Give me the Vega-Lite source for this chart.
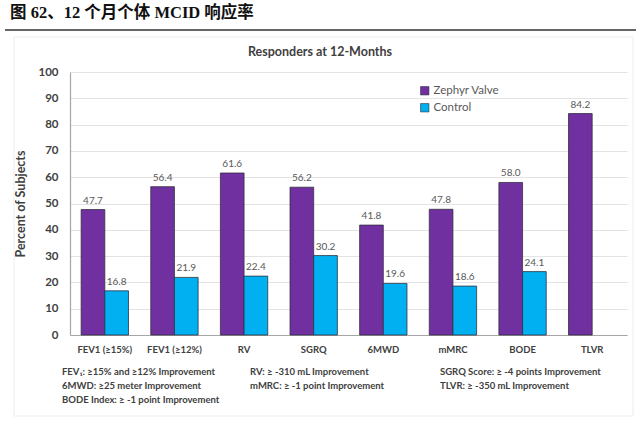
{
  "$schema": "https://vega.github.io/schema/vega-lite/v6.json",
  "width": 557,
  "height": 263,
  "autosize": {"type": "none"},
  "padding": {"left": 70, "top": 72, "right": 14, "bottom": 91},
  "background": "white",
  "config": {
    "view": {"stroke": null},
    "font": "Lato"
  },
  "resolve": {"scale": {"x": "independent"}, "axis": {"y": "independent"}},
  "layer": [
    {
      "data": {
        "values": [
          {"measure": "FEV1 (≥15%)", "group": "Zephyr Valve", "pct": 47.7},
          {"measure": "FEV1 (≥15%)", "group": "Control", "pct": 16.8},
          {"measure": "FEV1 (≥12%)", "group": "Zephyr Valve", "pct": 56.4},
          {"measure": "FEV1 (≥12%)", "group": "Control", "pct": 21.9},
          {"measure": "RV", "group": "Zephyr Valve", "pct": 61.6},
          {"measure": "RV", "group": "Control", "pct": 22.4},
          {"measure": "SGRQ", "group": "Zephyr Valve", "pct": 56.2},
          {"measure": "SGRQ", "group": "Control", "pct": 30.2},
          {"measure": "6MWD", "group": "Zephyr Valve", "pct": 41.8},
          {"measure": "6MWD", "group": "Control", "pct": 19.6},
          {"measure": "mMRC", "group": "Zephyr Valve", "pct": 47.8},
          {"measure": "mMRC", "group": "Control", "pct": 18.6},
          {"measure": "BODE", "group": "Zephyr Valve", "pct": 58.0},
          {"measure": "BODE", "group": "Control", "pct": 24.1},
          {"measure": "TLVR", "group": "Zephyr Valve", "pct": 84.2}
        ]
      },
      "encoding": {
        "x": {
          "field": "measure",
          "type": "nominal",
          "scale": {"domain": ["FEV1 (≥15%)", "FEV1 (≥12%)", "RV", "SGRQ", "6MWD", "mMRC", "BODE", "TLVR"], "paddingInner": 0.32, "paddingOuter": 0.16},
          "axis": {
            "title": null,
            "labelAngle": 0,
            "labelFont": "Lato",
            "labelFontWeight": "bold",
            "labelFontSize": 9.5,
            "labelColor": "#404040",
            "labelPadding": 9,
            "ticks": false,
            "domainColor": "#a6a6a6",
            "domainWidth": 1.2
          }
        },
        "xOffset": {"field": "group", "type": "nominal", "scale": {"domain": ["Zephyr Valve", "Control"]}},
        "y": {
          "field": "pct",
          "type": "quantitative",
          "scale": {"domain": [0, 100], "nice": false},
          "axis": {
            "title": "Percent of Subjects",
            "titleFont": "Lato",
            "titleFontSize": 12.5,
            "titleFontWeight": "bold",
            "titleColor": "#404040",
            "titlePadding": 10,
            "values": [0, 10, 20, 30, 40, 50, 60, 70, 80, 90, 100],
            "labelFont": "Lato",
            "labelFontWeight": "bold",
            "labelFontSize": 11.5,
            "labelColor": "#404040",
            "labelPadding": 12,
            "ticks": false,
            "domainColor": "#a6a6a6",
            "domainWidth": 1.2,
            "gridColor": "#e3e3e3",
            "gridWidth": 1
          }
        }
      },
      "layer": [
        {
          "mark": {"type": "bar", "stroke": "#2b2b3a", "strokeWidth": 1, "strokeOpacity": 0.75},
          "encoding": {
            "color": {
              "field": "group",
              "type": "nominal",
              "scale": {"domain": ["Zephyr Valve", "Control"], "range": ["#7030A0", "#00B0F0"]},
              "legend": {
                "title": null,
                "orient": "none",
                "legendX": 349,
                "legendY": 13,
                "padding": 0,
                "symbolType": "square",
                "symbolSize": 70,
                "symbolStrokeColor": "#2b2b3a",
                "symbolStrokeWidth": 0.6,
                "labelFont": "Lato",
                "labelFontSize": 11.5,
                "labelColor": "#595959",
                "labelOffset": 3,
                "rowPadding": 4
              }
            }
          }
        },
        {
          "mark": {"type": "text", "baseline": "bottom", "dy": -4, "font": "Lato", "fontSize": 10, "color": "#595959"},
          "encoding": {
            "text": {"field": "pct", "type": "quantitative", "format": ".1f"}
          }
        }
      ]
    },
    {
      "data": {"values": [{}]},
      "mark": {"type": "rect", "fillOpacity": 0, "stroke": "#ededed", "strokeWidth": 1},
      "encoding": {
        "x": {"datum": -0.1005, "type": "quantitative", "scale": {"domain": [0, 1]}, "axis": null},
        "x2": {"datum": 1.0108},
        "y": {"datum": 113.3, "type": "quantitative", "axis": null},
        "y2": {"datum": -30.8}
      }
    },
    {
      "data": {"values": [{}]},
      "mark": {"type": "rule", "color": "#333333", "strokeWidth": 1.5},
      "encoding": {
        "x": {"datum": -0.1167, "type": "quantitative", "scale": {"domain": [0, 1]}, "axis": null},
        "x2": {"datum": 1.0162},
        "y": {"datum": 116, "type": "quantitative", "axis": null}
      }
    },
    {
      "data": {"values": [{}]},
      "mark": {"type": "text", "text": "图 62、12 个月个体 MCID 响应率", "align": "left", "baseline": "middle", "font": "Liberation Serif, Noto Sans CJK SC", "fontWeight": "bold", "fontSize": 16.5, "color": "#111111"},
      "encoding": {
        "x": {"datum": -0.1077, "type": "quantitative", "scale": {"domain": [0, 1]}, "axis": null},
        "y": {"datum": 122.4, "type": "quantitative", "axis": null}
      }
    },
    {
      "data": {"values": [{}]},
      "mark": {"type": "text", "text": "Responders at 12-Months", "align": "center", "baseline": "middle", "font": "Lato", "fontWeight": "bold", "fontSize": 12.5, "color": "#404040"},
      "encoding": {
        "x": {"datum": 0.4488, "type": "quantitative", "scale": {"domain": [0, 1]}, "axis": null},
        "y": {"datum": 107.6, "type": "quantitative", "axis": null}
      }
    },
    {
      "data": {"values": [{}]},
      "mark": {"type": "text", "text": ["FEV₁: ≥15% and ≥12% Improvement", "6MWD: ≥25 meter Improvement", "BODE Index: ≥ -1 point Improvement"], "align": "left", "baseline": "top", "lineHeight": 14, "font": "Lato", "fontWeight": "bold", "fontSize": 9.5, "color": "#404040"},
      "encoding": {
        "x": {"datum": -0.0144, "type": "quantitative", "scale": {"domain": [0, 1]}, "axis": null},
        "y": {"datum": -12.2, "type": "quantitative", "axis": null}
      }
    },
    {
      "data": {"values": [{}]},
      "mark": {"type": "text", "text": ["RV: ≥ -310 mL Improvement", "mMRC: ≥ -1 point Improvement"], "align": "left", "baseline": "top", "lineHeight": 14, "font": "Lato", "fontWeight": "bold", "fontSize": 9.5, "color": "#404040"},
      "encoding": {
        "x": {"datum": 0.3232, "type": "quantitative", "scale": {"domain": [0, 1]}, "axis": null},
        "y": {"datum": -12.2, "type": "quantitative", "axis": null}
      }
    },
    {
      "data": {"values": [{}]},
      "mark": {"type": "text", "text": ["SGRQ Score: ≥ -4 points Improvement", "TLVR: ≥ -350 mL Improvement"], "align": "left", "baseline": "top", "lineHeight": 14, "font": "Lato", "fontWeight": "bold", "fontSize": 9.5, "color": "#404040"},
      "encoding": {
        "x": {"datum": 0.6643, "type": "quantitative", "scale": {"domain": [0, 1]}, "axis": null},
        "y": {"datum": -12.2, "type": "quantitative", "axis": null}
      }
    }
  ]
}
